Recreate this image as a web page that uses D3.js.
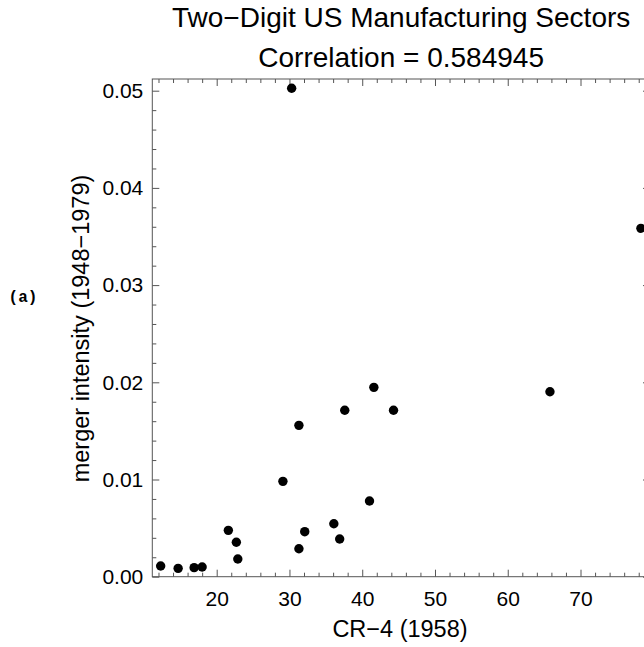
<!DOCTYPE html>
<meta charset="utf-8">
<style>
  body { margin: 0; background: #fff; }
  text { font-family: "Liberation Sans", Arial, sans-serif; fill: #000; }
  .frame { fill: none; stroke: #555; stroke-width: 1px; }
  .tick line { stroke: #555; }
</style>
<body>
<script src="https://d3js.org/d3.v7.min.js"></script>
<script>
  // CR-4 concentration ratio (1958) and merger intensity (1948-1979)
  var cr4 = [12.3, 14.7, 16.9, 18.0, 21.6, 22.7, 22.9, 29.1, 30.3, 31.3, 31.3, 32.1,
             36.1, 36.9, 37.6, 41.0, 41.6, 44.3, 65.8, 78.3];
  var intensity = [0.0011, 0.00086, 0.00093, 0.0010, 0.00477, 0.00354, 0.00182, 0.00981,
                   0.05025, 0.01557, 0.00288, 0.00463, 0.00545, 0.00388, 0.01712, 0.00779,
                   0.01948, 0.01712, 0.01903, 0.03584];
  var xMajor = [20, 30, 40, 50, 60, 70];
  var yMajor = [0, 0.01, 0.02, 0.03, 0.04, 0.05];
  var titleLines = ["Two\u2212Digit US Manufacturing Sectors", "Correlation = 0.584945"];

  var W = 644, H = 647;
  var mLeft = 152.3, mRight = 650, mTop = 79, mBottom = 576.7;

  var svg = d3.select("body").append("svg").attr("width", W).attr("height", H);

  var x = d3.scaleLinear().domain([11.15, 79.55]).range([mLeft, mRight]);
  var y = d3.scaleLinear().domain([0, 0.05]).range([mBottom, 90.7]);

  var xMinor = d3.range(12, 80, 2).filter(function (v) { return v % 10 !== 0; });
  var yMinor = d3.range(0.002, 0.0511, 0.002).filter(function (v) { return Math.abs(v * 100 - Math.round(v * 100)) > 1e-6; });

  // frame
  svg.append("rect").attr("class", "frame")
    .attr("x", mLeft).attr("y", mTop).attr("width", mRight - mLeft).attr("height", mBottom - mTop);

  function tickAxis(axis, g) {
    g.call(axis);
    g.select(".domain").remove();
  }
  function addAxis(axis, tx, ty) {
    var g = svg.append("g").attr("transform", "translate(" + tx + "," + ty + ")");
    tickAxis(axis, g);
    return g;
  }
  // bottom
  addAxis(d3.axisBottom(x).tickValues(xMajor).tickSize(-7).tickPadding(14).tickFormat(d3.format("d")), 0, mBottom);
  addAxis(d3.axisBottom(x).tickValues(xMinor).tickSize(-4).tickFormat(""), 0, mBottom);
  // top
  addAxis(d3.axisTop(x).tickValues(xMajor).tickSize(-7).tickFormat(""), 0, mTop);
  addAxis(d3.axisTop(x).tickValues(xMinor).tickSize(-4).tickFormat(""), 0, mTop);
  // left
  addAxis(d3.axisLeft(y).tickValues(yMajor).tickSize(-7).tickPadding(9).tickFormat(d3.format(".2f")), mLeft, 0);
  addAxis(d3.axisLeft(y).tickValues(yMinor).tickSize(-4).tickFormat(""), mLeft, 0);
  // right
  addAxis(d3.axisRight(y).tickValues(yMajor).tickSize(-7).tickFormat(""), mRight, 0);
  addAxis(d3.axisRight(y).tickValues(yMinor).tickSize(-4).tickFormat(""), mRight, 0);

  svg.selectAll(".tick text").style("font-size", "21px").style("font-family", "Liberation Sans, Arial, sans-serif").attr("fill", "#000");

  // points
  svg.append("g").selectAll("circle")
    .data(cr4)
    .enter().append("circle")
    .attr("cx", function (d) { return x(d); })
    .attr("cy", function (d, i) { return y(intensity[i]); })
    .attr("r", 4.7)
    .attr("fill", "#000");

  // titles
  svg.append("g").selectAll("text")
    .data(titleLines)
    .enter().append("text")
    .attr("x", (mLeft + mRight) / 2)
    .attr("y", function (d, i) { return 27 + i * 39.5; })
    .attr("text-anchor", "middle")
    .style("font-size", "28px")
    .text(function (d) { return d; });

  // axis labels
  svg.append("text")
    .attr("x", 400).attr("y", 637)
    .attr("text-anchor", "middle")
    .style("font-size", "23.5px")
    .text("CR\u22124 (1958)");

  svg.append("text")
    .attr("transform", "translate(89,328.5) rotate(-90)")
    .attr("text-anchor", "middle")
    .style("font-size", "23.5px")
    .text("merger intensity (1948\u22121979)");

  svg.append("text")
    .attr("x", 23).attr("y", 302)
    .attr("text-anchor", "middle")
    .style("font-family", "Liberation Mono, Courier New, monospace")
    .style("font-weight", "bold")
    .style("font-size", "16px")
    .text("(a)");
</script>
</body>
